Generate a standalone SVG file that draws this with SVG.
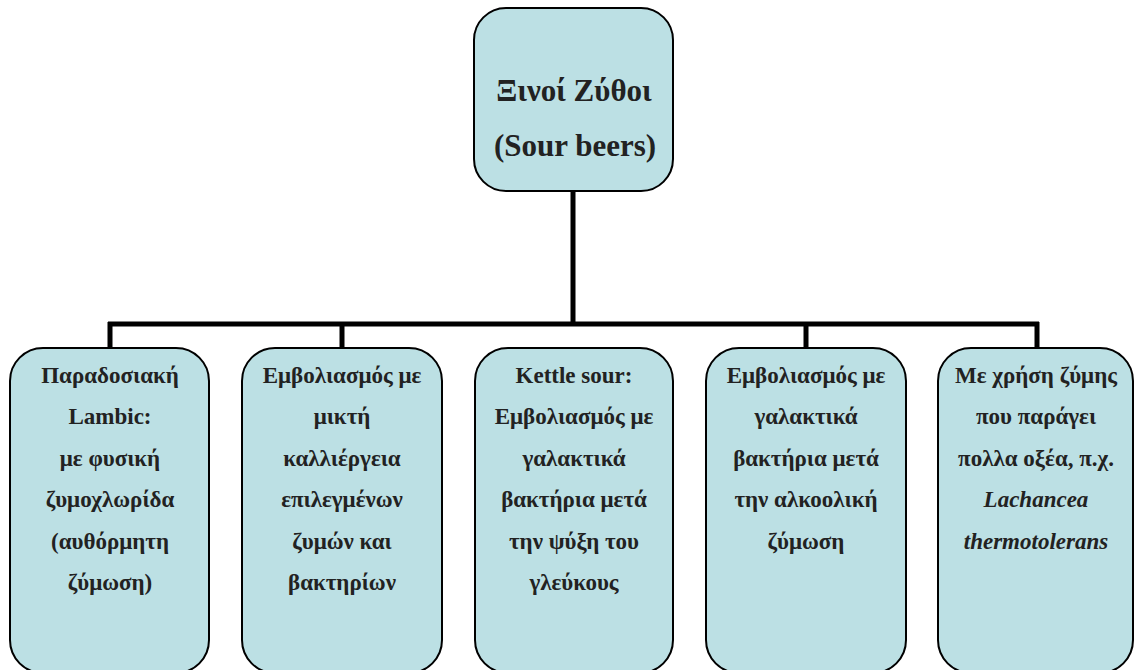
<svg xmlns="http://www.w3.org/2000/svg" width="1135" height="670" viewBox="0 0 1135 670">
<style>
.box{fill:#bce0e4;stroke:#000;stroke-width:2}
.t{font-family:"Liberation Serif","Times New Roman",serif;font-weight:bold;fill:#222;text-anchor:middle}
.s{font-size:23px}
.b{font-size:31px}
.conn{stroke:#000;stroke-width:5;fill:none}
</style>
<rect width="1135" height="670" fill="#fff"/>
<g id="connectors">
<path class="conn" d="M573,190 V324 M108,324 H1039 M110,322 V348 M342,322 V348 M806,322 V348 M1037,322 V348"/>
</g>
<g id="root">
<rect class="box" x="474" y="8" width="199" height="183" rx="32"/>
<text class="t b" x="574" y="101">Ξινοί Ζύθοι</text>
<text class="t b" x="575" y="156">(Sour beers)</text>
</g>
<g id="n1">
<rect class="box" x="10" y="348" width="199" height="325" rx="33"/>
<text class="t s" x="110" y="383">Παραδοσιακή</text>
<text class="t s" x="110" y="424">Lambic:</text>
<text class="t s" x="110" y="466">με φυσική</text>
<text class="t s" x="110" y="507">ζυμοχλωρίδα</text>
<text class="t s" x="110" y="549">(αυθόρμητη</text>
<text class="t s" x="110" y="590">ζύμωση)</text>
</g>
<g id="n2">
<rect class="box" x="242" y="348" width="200" height="325" rx="33"/>
<text class="t s" x="342" y="383">Εμβολιασμός με</text>
<text class="t s" x="342" y="424">μικτή</text>
<text class="t s" x="342" y="466">καλλιέργεια</text>
<text class="t s" x="342" y="507">επιλεγμένων</text>
<text class="t s" x="342" y="549">ζυμών και</text>
<text class="t s" x="342" y="590">βακτηρίων</text>
</g>
<g id="n3">
<rect class="box" x="475" y="348" width="198" height="325" rx="33"/>
<text class="t s" x="574" y="383">Kettle sour:</text>
<text class="t s" x="574" y="424">Εμβολιασμός με</text>
<text class="t s" x="574" y="466">γαλακτικά</text>
<text class="t s" x="574" y="507">βακτήρια μετά</text>
<text class="t s" x="574" y="549">την ψύξη του</text>
<text class="t s" x="574" y="590">γλεύκους</text>
</g>
<g id="n4">
<rect class="box" x="706" y="348" width="200" height="325" rx="33"/>
<text class="t s" x="806" y="383">Εμβολιασμός με</text>
<text class="t s" x="806" y="424">γαλακτικά</text>
<text class="t s" x="806" y="466">βακτήρια μετά</text>
<text class="t s" x="806" y="507">την αλκοολική</text>
<text class="t s" x="806" y="549">ζύμωση</text>
</g>
<g id="n5">
<rect class="box" x="938" y="348" width="195" height="325" rx="33"/>
<text class="t s" x="1036" y="383">Με χρήση ζύμης</text>
<text class="t s" x="1036" y="424">που παράγει</text>
<text class="t s" x="1036" y="466">πολλα οξέα, π.χ.</text>
<text class="t s" x="1036" y="507" font-style="italic">Lachancea</text>
<text class="t s" x="1036" y="549" font-style="italic">thermotolerans</text>
</g>
</svg>
